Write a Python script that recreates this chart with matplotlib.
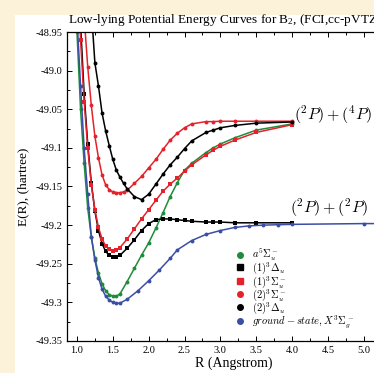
import matplotlib
matplotlib.use("Agg")
import matplotlib.pyplot as plt
from matplotlib.lines import Line2D
from matplotlib.patches import Rectangle

plt.rcParams['font.family'] = ['Liberation Serif', 'DejaVu Serif']
plt.rcParams['mathtext.fontset'] = 'cm'

# ---- data (R in Angstrom, E in hartree) ----
R_green = [1.0, 1.05, 1.1, 1.15, 1.2, 1.25, 1.3, 1.35, 1.4, 1.45, 1.5, 1.55, 1.6, 1.7, 1.8,
           1.9, 2.0, 2.1, 2.2, 2.3, 2.4, 2.5, 2.6, 2.8, 2.9, 3.0, 3.2, 3.5, 4.0]
E_green = [-48.95, -49.05, -49.12, -49.178, -49.215, -49.243, -49.262, -49.276, -49.285,
           -49.290, -49.292, -49.292, -49.289, -49.273, -49.256, -49.239, -49.223, -49.204,
           -49.184, -49.163, -49.145, -49.129, -49.120, -49.106, -49.100, -49.095, -49.087,
           -49.077, -49.069]

R_blk_sq = [1.0, 1.05, 1.1, 1.15, 1.2, 1.25, 1.3, 1.35, 1.4, 1.45, 1.5, 1.55, 1.6, 1.7, 1.8,
            1.9, 2.0, 2.1, 2.2, 2.3, 2.4, 2.5, 2.6, 2.8, 2.9, 3.0, 3.2, 3.5, 4.0]
E_blk_sq = [-48.83, -48.94, -49.03, -49.095, -49.145, -49.182, -49.207, -49.224, -49.234,
            -49.239, -49.241, -49.241, -49.239, -49.230, -49.219, -49.207, -49.198, -49.193,
            -49.192, -49.192, -49.193, -49.194, -49.195, -49.196, -49.196, -49.196, -49.197,
            -49.197, -49.197]

R_red_sq = [1.0, 1.05, 1.1, 1.15, 1.2, 1.25, 1.3, 1.35, 1.4, 1.45, 1.5, 1.55, 1.6, 1.7, 1.8,
            1.9, 2.0, 2.1, 2.2, 2.3, 2.4, 2.5, 2.6, 2.8, 2.9, 3.0, 3.2, 3.5, 4.0]
E_red_sq = [-48.85, -48.96, -49.04, -49.10, -49.148, -49.18, -49.203, -49.218, -49.227,
            -49.231, -49.233, -49.232, -49.229, -49.218, -49.205, -49.192, -49.180, -49.168,
            -49.156, -49.147, -49.139, -49.130, -49.122, -49.109, -49.103, -49.098, -49.090,
            -49.080, -49.070]

R_red_c = [1.0, 1.1, 1.15, 1.2, 1.25, 1.3, 1.35, 1.4, 1.45, 1.5, 1.55, 1.6, 1.65, 1.7, 1.8,
           1.9, 2.0, 2.1, 2.2, 2.3, 2.4, 2.5, 2.6, 2.8, 2.9, 3.0, 3.2, 3.5, 4.0]
E_red_c = [-48.78, -48.93, -48.995, -49.045, -49.085, -49.113, -49.135, -49.148, -49.154,
           -49.157, -49.158, -49.158, -49.157, -49.155, -49.146, -49.137, -49.126, -49.115,
           -49.102, -49.090, -49.081, -49.074, -49.069, -49.066, -49.066, -49.0655, -49.0655,
           -49.0655, -49.0655]

R_blk_c = [1.2, 1.25, 1.3, 1.35, 1.4, 1.45, 1.5, 1.55, 1.6, 1.65, 1.7, 1.8, 1.9, 2.0, 2.1,
           2.2, 2.3, 2.4, 2.5, 2.6, 2.8, 2.9, 3.0, 3.2, 3.5, 4.0]
E_blk_c = [-48.92, -48.99, -49.02, -49.055, -49.078, -49.097, -49.115, -49.129, -49.138,
           -49.146, -49.153, -49.163, -49.167, -49.160, -49.147, -49.134, -49.122, -49.112,
           -49.101, -49.091, -49.080, -49.077, -49.074, -49.071, -49.068, -49.0665]

R_blue = [0.9, 1.0, 1.05, 1.1, 1.15, 1.2, 1.25, 1.3, 1.35, 1.4, 1.45, 1.5, 1.55, 1.6, 1.7,
          1.85, 2.0, 2.15, 2.3, 2.4, 2.6, 2.8, 3.0, 3.2, 3.4, 3.6, 3.8, 4.0, 5.0, 6.0]
E_blue = [-48.80, -48.93, -49.02, -49.10, -49.16, -49.215, -49.245, -49.268, -49.283,
          -49.292, -49.297, -49.300, -49.301, -49.301, -49.296, -49.285, -49.272, -49.258,
          -49.243, -49.232, -49.220, -49.212, -49.207, -49.203, -49.201, -49.200, -49.1995,
          -49.199, -49.198, -49.198]

labels = [r'$a^5\Sigma_u^-$', r'$(1)^3\Delta_u$', r'$(1)^3\Sigma_u^-$',
          r'$(2)^3\Sigma_u^-$', r'$(2)^3\Delta_u$', r'$ground-state, X^3\Sigma_g^-$']
xticks = [1.0, 1.5, 2.0, 2.5, 3.0, 3.5, 4.0, 4.5, 5.0]
yticks = [-48.95, -49.0, -49.05, -49.1, -49.15, -49.2, -49.25, -49.3, -49.35]
ytick_labels = ['-48.95', '-49.0', '-49.05', '-49.1', '-49.15', '-49.2', '-49.25', '-49.3', '-49.35']

green = '#1e8c3a'
red = '#e4222b'
blue = '#3b4ea6'
black = '#000000'

W, H = 374, 373
fig = plt.figure(figsize=(W / 100, H / 100), dpi=100)
fig.patch.set_facecolor('#fcf2da')
fig.patches.append(Rectangle((15 / W, 0), 1, 1 - 15 / H, transform=fig.transFigure,
                             facecolor='white', edgecolor='none', zorder=-5))

ax = fig.add_axes([67 / W, 32 / H, (400 - 67) / W, 309 / H])
ax.set_facecolor('white')

series = [(R_green, E_green, green, 'o'),
          (R_blk_sq, E_blk_sq, black, 's'),
          (R_red_sq, E_red_sq, red, 's'),
          (R_red_c, E_red_c, red, 'o'),
          (R_blk_c, E_blk_c, black, 'o'),
          (R_blue, E_blue, blue, 'o')]
for R, E, c, m in series:
    ax.plot(R, E, color=c, lw=1.1, marker=m, markersize=2.8, markeredgewidth=0)

ax.set_xlim(0.861, 5.505)
ax.set_ylim(-49.35, -48.95)
ax.set_xticks(xticks)
ax.set_xticklabels(['%.1f' % v for v in xticks])
ax.set_yticks(yticks)
ax.set_yticklabels(ytick_labels)
ax.set_xticks([1.25, 1.75, 2.25, 2.75, 3.25, 3.75, 4.25, 4.75, 5.25], minor=True)
ax.set_yticks([-48.975, -49.025, -49.075, -49.125, -49.175, -49.225, -49.275, -49.325], minor=True)
ax.tick_params(which='both', direction='in', top=True, right=True, labelsize=7.5, width=0.7)
ax.tick_params(which='major', length=3.5)
ax.tick_params(which='minor', length=2)
for s in ax.spines.values():
    s.set_linewidth(0.9)

ax.set_xlabel('R (Angstrom)', fontsize=10, labelpad=1)
ax.set_ylabel('E(R), (hartree)', fontsize=9.5, labelpad=4)
fig.text(68 / W, 1 - 20 / H, r'Low-lying Potential Energy Curves for B$\mathregular{_2}$, (FCI,cc-pVTZ)',
         fontsize=9.5, ha='left', va='center')

ax.text(4.03, -49.0575, r'$(^2P) + (^4P)$', fontsize=11.5, ha='left', va='center')
ax.text(3.97, -49.177, r'$(^2P) + (^2P)$', fontsize=11.5, ha='left', va='center')

handles = [Line2D([], [], ls='none', marker=m, color=c, markersize=4)
           for _, _, c, m in series]
ax.legend(handles, labels, loc='upper left', bbox_to_anchor=(0.505, 0.305), frameon=False,
          fontsize=7.5, handlelength=1, handletextpad=0.6, labelspacing=-0.25,
          borderaxespad=0, borderpad=0)

fig.savefig('out.png', dpi=100, facecolor=fig.get_facecolor())
